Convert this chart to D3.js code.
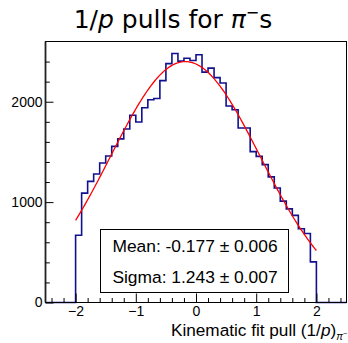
<!DOCTYPE html>
<html><head><meta charset="utf-8">
<script src="https://cdn.jsdelivr.net/npm/d3@7"></script>
<style>body{margin:0;background:#fff}</style></head>
<body><svg id="c" width="348" height="343"></svg>
<script>
// ---- data ----
const binLow = -2.5, binWidth = 0.1;
const counts = [0,0,0,0,0,
  670,1090,1207,1280,1390, 1460,1555,1630,1728,1866,
  1798,1940,2020,2032,2210, 2380,2480,2405,2433,2410,
  2468,2295,2335,2240,2186, 1958,1920,1738,1738,1503,
  1456,1373,1251,1141,1010, 933,868,735,688,405,
  0,0,0,0,0];
const xTicks = [-2,-1,0,1,2];
const xMinor = [-2.4,-2.2,-1.8,-1.6,-1.4,-1.2,-0.8,-0.6,-0.4,-0.2,0.2,0.4,0.6,0.8,1.2,1.4,1.6,1.8,2.2,2.4];
const yTicks = [0,1000,2000];
const yMinor = [200,400,600,800,1200,1400,1600,1800,2200,2400];
const fitMean = -0.177, fitSigma = 1.243, fitAmp = 2400, fitRange = [-2, 2];
const statLines = ["Mean: -0.177 \u00b1 0.006", "Sigma: 1.243 \u00b1 0.007"];

// ---- layout ----
const svg = d3.select("#c");
const x = d3.scaleLinear().domain([-2.5, 2.5]).range([45.5, 346.5]);
const y = d3.scaleLinear().domain([0, 2600]).range([302.5, 41.5]);
const font = "'Liberation Sans', Arial, sans-serif";

// histogram
const pts = counts.map((c, i) => [binLow + i * binWidth, c]);
pts.push([binLow + counts.length * binWidth, counts[counts.length - 1]]);
svg.append("path")
  .attr("d", d3.line().x(d => x(d[0])).y(d => y(d[1])).curve(d3.curveStepAfter)(pts))
  .attr("fill", "none").attr("stroke", "#101090").attr("stroke-width", 1.6);

// fit curve
const fx = d3.range(fitRange[0], fitRange[1] + 1e-9, 0.02);
const gauss = v => fitAmp * Math.exp(-0.5 * Math.pow((v - fitMean) / fitSigma, 2));
svg.append("path")
  .attr("d", d3.line().x(d => x(d)).y(d => y(gauss(d)))(fx))
  .attr("fill", "none").attr("stroke", "#ff0000").attr("stroke-width", 1.3);

// frame
svg.append("rect").attr("x", x.range()[0]).attr("y", y.range()[1])
  .attr("width", x.range()[1] - x.range()[0]).attr("height", y.range()[0] - y.range()[1])
  .attr("fill", "none").attr("stroke", "#000").attr("stroke-width", 1);
svg.append("line").attr("x1", x.range()[0]).attr("x2", x.range()[0])
  .attr("y1", y.range()[1]).attr("y2", y.range()[0]).attr("stroke", "#222").attr("stroke-width", 1.8);

// x axis
svg.append("g").attr("transform", `translate(0,${y.range()[0]})`)
  .call(d3.axisBottom(x).tickValues(xTicks).tickSizeInner(-9).tickSizeOuter(0).tickPadding(4)
    .tickFormat(d3.format("d")));
svg.append("g").attr("transform", `translate(0,${y.range()[0]})`)
  .call(d3.axisBottom(x).tickValues(xMinor).tickSizeInner(-4.5).tickSizeOuter(0).tickFormat(""));
// y axis
svg.append("g").attr("transform", `translate(${x.range()[0]},0)`)
  .call(d3.axisLeft(y).tickValues(yTicks).tickSizeInner(-8).tickSizeOuter(0).tickPadding(3)
    .tickFormat(d3.format("d")));
svg.append("g").attr("transform", `translate(${x.range()[0]},0)`)
  .call(d3.axisLeft(y).tickValues(yMinor).tickSizeInner(-4.3).tickSizeOuter(0).tickFormat(""));
svg.selectAll(".domain").remove();
svg.selectAll(".tick line").attr("stroke", "#000").attr("stroke-width", 1);
svg.selectAll(".tick text").attr("font-family", font).attr("font-size", 14).attr("fill", "#000");

// stat box
svg.append("rect").attr("x", 100.5).attr("y", 229.5).attr("width", 188).attr("height", 63)
  .attr("fill", "#fff").attr("stroke", "#000").attr("stroke-width", 1);
svg.selectAll(".stat").data(statLines).join("text").attr("class", "stat")
  .attr("x", 195).attr("y", (d, i) => 252 + i * 31)
  .attr("text-anchor", "middle").attr("font-family", font).attr("font-size", 17.4)
  .text(d => d);

// axis title
const xt = svg.append("text").attr("x", 347).attr("y", 336).attr("text-anchor", "end")
  .attr("font-family", font).attr("font-size", 17.2);
xt.append("tspan").text("Kinematic fit pull (1/");
xt.append("tspan").attr("font-style", "italic").text("p");
xt.append("tspan").text(")");
xt.append("tspan").attr("font-size", 10).attr("font-style", "italic").attr("dy", 4).text("\u03c0");
xt.append("tspan").attr("font-size", 7).attr("dy", -4).text("\u2212");

// title
const tt = svg.append("text").attr("x", 173).attr("y", 28).attr("text-anchor", "middle")
  .attr("font-family", "'DejaVu Sans', sans-serif").attr("font-size", 25);
tt.append("tspan").text("1/");
tt.append("tspan").attr("font-style", "italic").text("p");
tt.append("tspan").text(" pulls for ");
tt.append("tspan").attr("font-style", "italic").text("\u03c0");
tt.append("tspan").attr("font-size", 16).attr("dy", -10).text("\u2212");
tt.append("tspan").attr("dy", 10).text("s");
</script>
</body></html>
